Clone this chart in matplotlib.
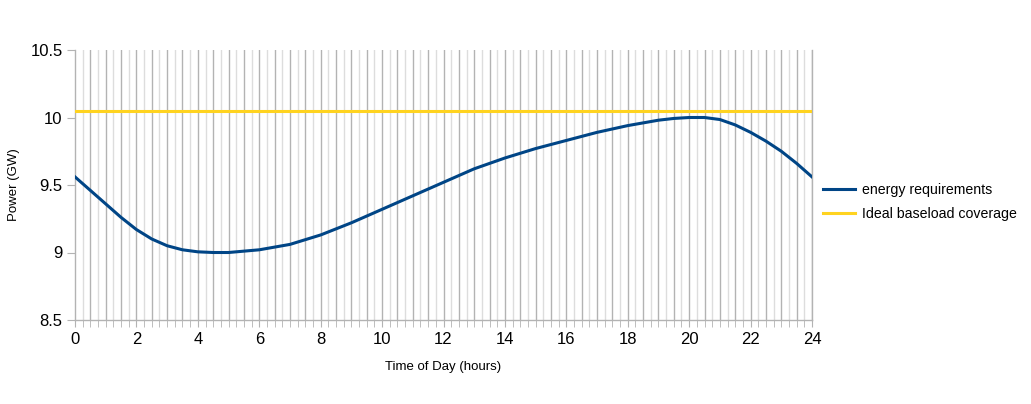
import matplotlib.pyplot as plt
import numpy as np

plt.rcParams['font.family'] = ['Liberation Sans', 'DejaVu Sans']

# half-hourly readings
hours = [i * 0.5 for i in range(49)]
energy = [9.56, 9.46, 9.36, 9.26, 9.17, 9.10, 9.05, 9.02, 9.005, 9.0,
          9.0, 9.01, 9.02, 9.04, 9.06, 9.095, 9.13, 9.175, 9.22, 9.27,
          9.32, 9.37, 9.42, 9.47, 9.52, 9.57, 9.62, 9.66, 9.70, 9.735,
          9.77, 9.80, 9.83, 9.86, 9.89, 9.915, 9.94, 9.96, 9.98, 9.993,
          10.0, 10.0, 9.985, 9.945, 9.89, 9.825, 9.75, 9.66, 9.56]
baseload = [10.045] * 49

blue = '#004586'
yellow = '#ffd320'

fig = plt.figure(figsize=(10.31, 4.04), dpi=100)
ax = fig.add_axes([75 / 1031, 1 - 320 / 404, 737 / 1031, 270 / 404])

ax.plot(hours, energy, color=blue, lw=2.2, label='energy requirements', zorder=3)
ax.plot(hours, baseload, color=yellow, lw=2.2, label='Ideal baseload coverage', zorder=3)

ax.set_xlim(0, 24)
ax.set_ylim(8.5, 10.5)
ax.set_xticks(np.arange(0, 25, 2))
ax.set_xticks(np.arange(0, 24.01, 0.25), minor=True)
ax.set_yticks([8.5, 9, 9.5, 10, 10.5])
ax.set_yticklabels(['8.5', '9', '9.5', '10', '10.5'])

# vertical grid: darker each half hour, lighter in between
for x in np.arange(0.25, 24.01, 0.25):
    c = '#b3b3b3' if abs(x * 2 - round(x * 2)) < 1e-6 else '#dddddd'
    ax.axvline(x, color=c, lw=1.0, zorder=1)

ax.tick_params(axis='x', which='both', direction='out', length=5, color='#b3b3b3',
               labelsize=12, pad=4)
ax.tick_params(axis='y', direction='out', length=6, color='#b3b3b3', labelsize=12, pad=3)

ax.spines['top'].set_visible(False)
for s in ['left', 'bottom', 'right']:
    ax.spines[s].set_color('#b3b3b3')
    ax.spines[s].set_linewidth(1.0)

ax.set_xlabel('Time of Day (hours)', fontsize=9.5, labelpad=10)
ax.set_ylabel('Power (GW)', fontsize=9.5)
ax.yaxis.set_label_coords(-55 / 737, 0.5)

fig.legend(loc='center left', bbox_to_anchor=(810 / 1031, 1 - 202 / 404), frameon=False,
           fontsize=10.2, handlelength=2.3, handletextpad=0.45, labelspacing=0.75)

fig.savefig('out.png', dpi=100)
